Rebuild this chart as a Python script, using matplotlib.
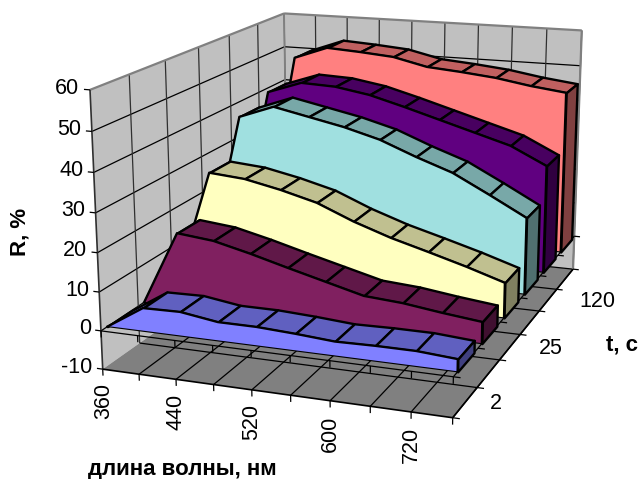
import numpy as np
import matplotlib
matplotlib.use("Agg")
import matplotlib.pyplot as plt
from mpl_toolkits.mplot3d.art3d import Poly3DCollection
from mpl_toolkits.mplot3d import proj3d

plt.rcParams['font.family'] = ['Liberation Sans', 'DejaVu Sans']

# Wavelength categories and exposure-time series
wavelengths = ['360', '400', '440', '480', '520', '560', '600', '660', '720', '780']
times = ['2', '10', '25', '60', '120', '300']
series_0 = [0.0, 6.0, 6.2, 4.8, 4.8, 4.3, 3.6, 3.8, 3.8, 3.1]
series_1 = [0.0, 19.5, 18.5, 16.2, 13.6, 11.1, 8.6, 7.9, 6.6, 5.5]
series_2 = [0.0, 30.4, 29.6, 27.6, 25.1, 21.1, 17.8, 15.1, 12.3, 9.2]
series_3 = [0.0, 41.1, 44.6, 42.6, 40.6, 38.0, 34.2, 30.8, 25.8, 20.6]
series_4 = [0.0, 44.0, 47.3, 46.9, 45.3, 42.7, 39.9, 37.1, 34.3, 29.6]
series_5 = [0.0, 50.2, 53.7, 53.1, 52.3, 50.1, 49.3, 48.3, 46.7, 45.5]
all_series = [series_0, series_1, series_2, series_3, series_4, series_5]
value_ticks = [-10, 0, 10, 20, 30, 40, 50, 60]

# front, top and side shades for every band
shades = [('#8080FF', '#6060C0', '#404080'),
          ('#802060', '#601848', '#401030'),
          ('#FFFFC0', '#C0C090', '#808060'),
          ('#A0E0E0', '#78A8A8', '#507070'),
          ('#600080', '#480060', '#300040'),
          ('#FF8080', '#C06060', '#804040')]

W, H = 640, 479
n_cat = len(wavelengths) - 1
n_ser = len(times)
vmin, vmax = value_ticks[0], value_ticks[-1]
front_gap = 1 / 6
band_lw = 1.7

fig = plt.figure(figsize=(W / 100, H / 100), dpi=100)
ax = fig.add_axes([0, (H - W) / 2 / H, 1, W / H], projection='3d', computed_zorder=False)
ax.set_xticks([])
ax.set_yticks([])
ax.set_zticks([])
ax.set_axis_off()

# Oblique perspective camera: (category, depth, value) -> normalised screen position
cam = np.array([[0.49895, -0.02663, 0.40464, 0.15776],
                [0.02878, -0.44598, -0.10919, 0.51699],
                [-0.07294, -0.04719, 0.25582, 1.0]])
scale = np.array([1 / n_cat, 1 / 70, 1 / n_ser, 1.0])
cols = [0, 2, 1, 3]
px = (cam[0] * scale)[cols]
py = (cam[1] * scale)[cols]
pw = (cam[2] * scale)[cols]
proj = np.array([2 * px - pw,
                 (1 - (W - H) / W) * pw - 2 * py,
                 [0.0, 0.0, 0.0, -1.0],
                 pw])
ax.get_proj = lambda: proj
ax.viewLim.intervalx = (-1, 1)
ax.viewLim.intervaly = (-1, 1)

z = [0]


def face(verts, fc, ec='black', lw=band_lw):
    z[0] += 1
    ax.add_collection3d(Poly3DCollection([verts], facecolors=fc, edgecolors=ec,
                                         linewidths=lw, zorder=z[0]))


def line(a, b, color='black', lw=0.9):
    z[0] += 1
    ax.plot(*zip(a, b), color=color, lw=lw, zorder=z[0], solid_capstyle='butt')


def label(c, d, v, s, **kw):
    tx, ty, _ = proj3d.proj_transform(c, d, v, proj)
    ax.text2D(tx, ty, s, transform=ax.transData, zorder=500, **kw)


# Walls and floor
face([(0, 0, vmin), (0, n_ser, vmin), (0, n_ser, vmax), (0, 0, vmax)], '#C0C0C0', 'none', 0)
face([(0, n_ser, vmin), (n_cat, n_ser, vmin), (n_cat, n_ser, vmax), (0, n_ser, vmax)], '#C0C0C0', 'none', 0)
face([(0, 0, vmin), (n_cat, 0, vmin), (n_cat, n_ser, vmin), (0, n_ser, vmin)], '#808080', 'none', 0)

# Gridlines
for v in value_ticks[1:-1]:
    line((0, 0, v), (0, n_ser, v))
    line((0, n_ser, v), (n_cat, n_ser, v))
for d in range(1, n_ser + 1):
    line((0, d, vmin), (0, d, vmax), '#303030')
    line((0, d, vmin), (n_cat, d, vmin))
for c in range(1, n_cat + 1):
    line((c, n_ser, vmin), (c, n_ser, vmax), '#303030')
    line((c, 0, vmin), (c, n_ser, vmin))

# Wall borders
line((0, 0, vmax), (0, n_ser, vmax), '#808080', 1.6)
line((0, n_ser, vmax), (n_cat, n_ser, vmax), '#808080', 1.6)
line((n_cat, n_ser, vmin), (n_cat, n_ser, vmax), '#808080', 1.6)
line((0, n_ser, vmin), (0, n_ser, vmax), '#808080', 1.2)
line((0, 0, vmin), (0, 0, vmax), '#303030', 1.2)
line((0, 0, vmin), (n_cat, 0, vmin), 'black', 1.2)
line((n_cat, 0, vmin), (n_cat, n_ser, vmin), 'black', 1.2)

# Axis lines at zero and their tick marks
line((0, 0, 0), (n_cat, 0, 0))
line((n_cat, 0, 0), (n_cat, n_ser, 0))
for c in range(n_cat + 1):
    line((c, 0, 0), (c, 0, -1.7))
    line((c, 0, vmin), (c, 0, vmin - 1.7))
for d in range(n_ser + 1):
    line((n_cat, d, 0), (n_cat + 0.17, d, 0))
    line((n_cat, d, vmin), (n_cat + 0.17, d, vmin))
for v in value_ticks:
    line((0, 0, v), (-0.16, 0, v))

# Bands, back to front; the front face has only a thin line along its base
for k in range(n_ser - 1, -1, -1):
    vals = all_series[k]
    y0, y1 = k + front_gap, k + 1 - front_gap
    front, top, side = shades[k]
    for c in range(n_cat):
        face([(c, y0, vals[c]), (c + 1, y0, vals[c + 1]),
              (c + 1, y1, vals[c + 1]), (c, y1, vals[c])], top)
    face([(n_cat, y0, 0), (n_cat, y1, 0), (n_cat, y1, vals[-1]), (n_cat, y0, vals[-1])], side)
    outline = [(c, y0, vals[c]) for c in range(n_cat + 1)]
    face(outline + [(n_cat, y0, 0), (0, y0, 0)], front, 'none', 0)
    line((0, y0, 0), (n_cat, y0, 0), 'black', 0.8)
    z[0] += 1
    ax.plot(*zip(*(outline + [(n_cat, y0, 0)])), color='black', lw=band_lw, zorder=z[0])

# Tick labels
tick_font = 15.5
for v in value_ticks:
    label(-0.28, 0, v + 0.2, str(v), ha='right', va='center', fontsize=tick_font)
for c, lab in enumerate(wavelengths):
    if c % 2 == 0 and c < n_cat:
        label(c, 0, vmin - 3.7, lab, rotation=90, ha='center', va='top', fontsize=tick_font)
for d, lab in enumerate(times):
    if d % 2 == 0:
        label(n_cat + 0.6 + 0.07 * d, d + 0.5, vmin + 0.6, lab, ha='left', va='center', fontsize=tick_font)

# Axis titles
title_font = 16
fig.text(20 / W, 1 - 232 / H, 'R, %', rotation=90, ha='center', va='center', fontsize=title_font, fontweight='bold')
fig.text(182 / W, 1 - 470 / H, 'длина волны, нм', ha='center', va='center', fontsize=title_font, fontweight='bold')
fig.text(622 / W, 1 - 345 / H, 't, c', ha='center', va='center', fontsize=title_font, fontweight='bold')

fig.savefig('out.png', dpi=100)
